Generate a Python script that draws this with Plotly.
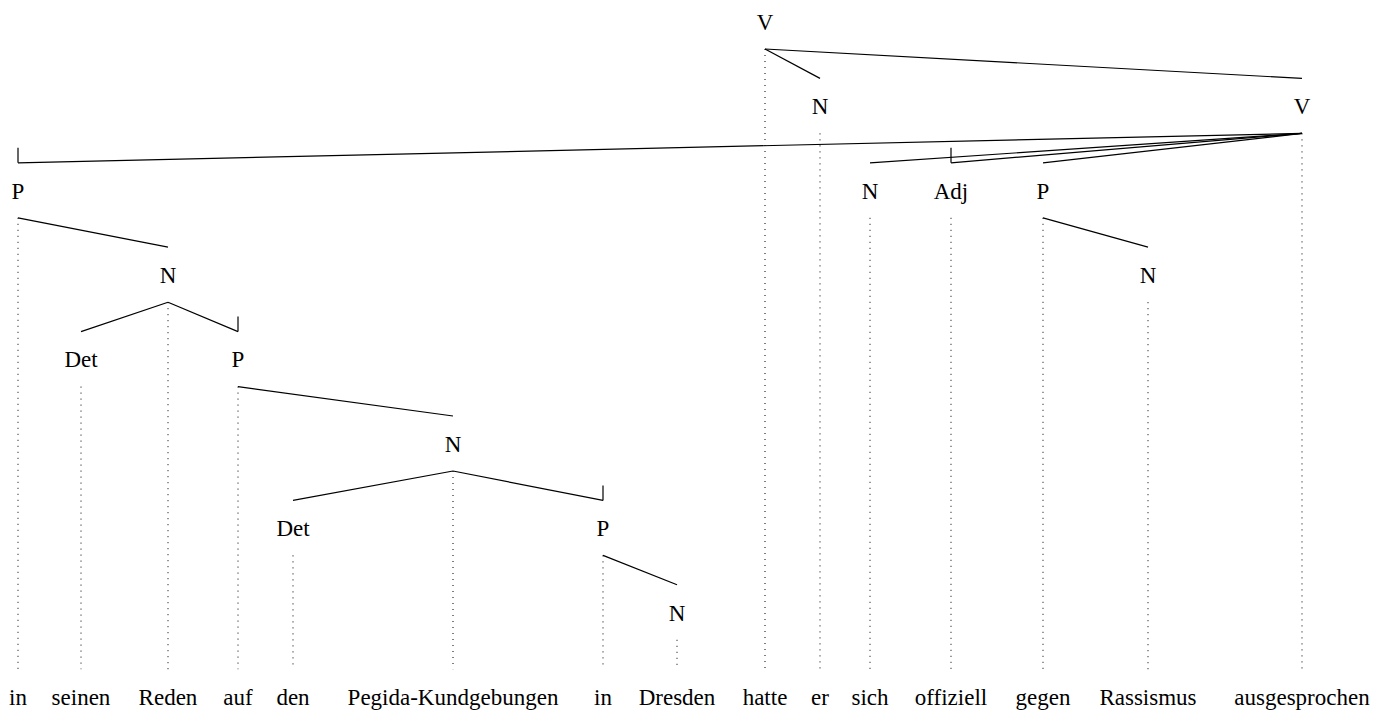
import plotly.graph_objects as go

# ---- data: dependency tree ----
words = ["in", "seinen", "Reden", "auf", "den", "Pegida-Kundgebungen", "in", "Dresden",
         "hatte", "er", "sich", "offiziell", "gegen", "Rassismus", "ausgesprochen"]
tags = ["P", "Det", "N", "P", "Det", "N", "P", "N", "V", "N", "N", "Adj", "P", "N", "V"]
heads = [14, 2, 0, 2, 5, 3, 5, 6, -1, 8, 14, 14, 14, 12, 8]
marked = [0, 3, 6, 11]  # dependents whose incoming edge carries a corner tick

# ---- layout constants ----
col_x = [18, 81, 168, 238, 293, 453, 603, 677, 765, 820, 870, 951, 1043, 1148, 1302]
Y0, DY = 21, 84.4
TEXT_DY = 3
W, H = 1387, 715
FONT = "Liberation Serif, Times New Roman, Times, DejaVu Serif, serif"
FS = 23


def depth(i):
    d = 0
    while heads[i] != -1:
        i = heads[i]
        d += 1
    return d


levels = [depth(i) for i in range(len(words))]
word_level = max(levels) + 1
ly = [Y0 + DY * l for l in levels]
word_y = Y0 + DY * word_level

# edges
ex, ey = [], []
for i, h in enumerate(heads):
    if h < 0:
        continue
    px, py = col_x[h], ly[h] + 28
    cx, cy = col_x[i], ly[i] - 27
    ex += [px, cx, None]
    ey += [py, cy, None]
    if i in marked:
        ex += [cx, cx, None]
        ey += [cy - 15, cy, None]

# projection dotted lines
dx, dy = [], []
for i in range(len(words)):
    dx += [col_x[i], col_x[i], None]
    dy += [ly[i] + 28, word_y - 27, None]

fig = go.Figure()
fig.add_trace(go.Scatter(x=dx, y=dy, mode="lines",
                         line=dict(color="black", width=1, dash="1px,5px"),
                         hoverinfo="skip", showlegend=False))
fig.add_trace(go.Scatter(x=ex, y=ey, mode="lines",
                         line=dict(color="black", width=1.2),
                         hoverinfo="skip", showlegend=False))
fig.add_trace(go.Scatter(x=col_x, y=[v + TEXT_DY for v in ly], mode="text", text=tags,
                         textposition="middle center",
                         textfont=dict(family=FONT, size=FS, color="black"),
                         hoverinfo="skip", showlegend=False))
fig.add_trace(go.Scatter(x=col_x, y=[word_y + TEXT_DY] * len(words), mode="text", text=words,
                         textposition="middle center",
                         textfont=dict(family=FONT, size=FS, color="black"),
                         hoverinfo="skip", showlegend=False))

fig.update_layout(
    width=W, height=H,
    margin=dict(l=0, r=0, t=0, b=0),
    paper_bgcolor="white", plot_bgcolor="white",
    font=dict(family=FONT),
    xaxis=dict(range=[0, W], visible=False, fixedrange=True),
    yaxis=dict(range=[H, 0], visible=False, fixedrange=True),
)
fig.write_html("out.html", config={"displayModeBar": False},
               post_script="document.body.style.margin='0';document.body.style.overflow='hidden';")
